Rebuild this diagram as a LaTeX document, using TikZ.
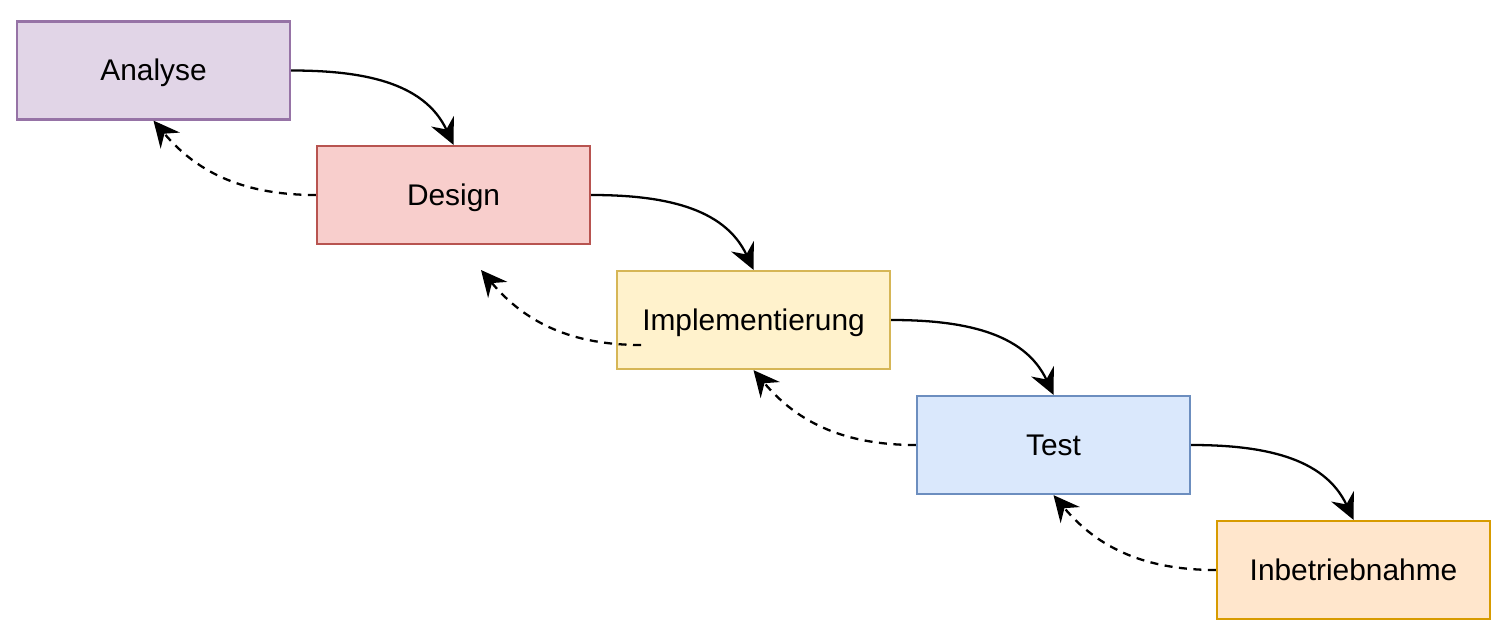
\documentclass[tikz,border=0pt]{standalone}
\usepackage{fontspec}
\setmainfont{Liberation Sans}
\usetikzlibrary{arrows.meta}
\definecolor{lilaF}{HTML}{E1D5E7}\definecolor{lilaD}{HTML}{9673A6}
\definecolor{rotF}{HTML}{F8CECC}\definecolor{rotD}{HTML}{B85450}
\definecolor{gelbF}{HTML}{FFF2CC}\definecolor{gelbD}{HTML}{D6B656}
\definecolor{blauF}{HTML}{DAE8FC}\definecolor{blauD}{HTML}{6C8EBF}
\definecolor{orangeF}{HTML}{FFE6CC}\definecolor{orangeD}{HTML}{D79B00}
\tikzset{
	phase/.style={draw, line width=1.3pt, minimum width=5.46cm, minimum height=1.96cm, text height=16pt, text depth=4.3pt, font=\fontsize{17}{20}\selectfont},
	vor/.style={line width=1.3pt, -{Stealth[length=5.2mm, width=5mm, inset=1.8mm]}},
	zurueck/.style={vor, dash pattern=on 0.16cm off 0.13cm}
}

\begin{document}
\begin{tikzpicture} [>=latex]
			\useasboundingbox (0,0) rectangle (30.04,12.6);
			%%% Phasen
			\node[phase, fill=lilaF, draw=lilaD] (ana) at (3.07,11.19) {Analyse};
			\node[phase, fill=rotF, draw=rotD] (des) at (9.07,8.7) {Design};
			\node[phase, fill=gelbF, draw=gelbD] (imp) at (15.07,6.2) {Implementierung};
			\node[phase, fill=blauF, draw=blauD] (tes) at (21.07,3.7) {Test};
			\node[phase, fill=orangeF, draw=orangeD] (inb) at (27.07,1.2) {Inbetriebnahme};
			%%% Vorwaerts
			\draw[vor] (ana.east) to[out=0, in=115] (des.north);
			\draw[vor] (des.east) to[out=0, in=115] (imp.north);
			\draw[vor] (imp.east) to[out=0, in=115] (tes.north);
			\draw[vor] (tes.east) to[out=0, in=115] (inb.north);
			%%% Rueckwaerts
			\coordinate (imp1) at (12.82,5.7);
			\coordinate (des1) at (9.62,7.2);
			\draw[zurueck] (des.west) to[out=180, in=-50] (ana.south);
			\draw[zurueck] (imp1) to[out=180, in=-50] (des1);
			\draw[zurueck] (tes.west) to[out=180, in=-50] (imp.south);
			\draw[zurueck] (inb.west) to[out=180, in=-50] (tes.south);
		\end{tikzpicture}
\end{document}
